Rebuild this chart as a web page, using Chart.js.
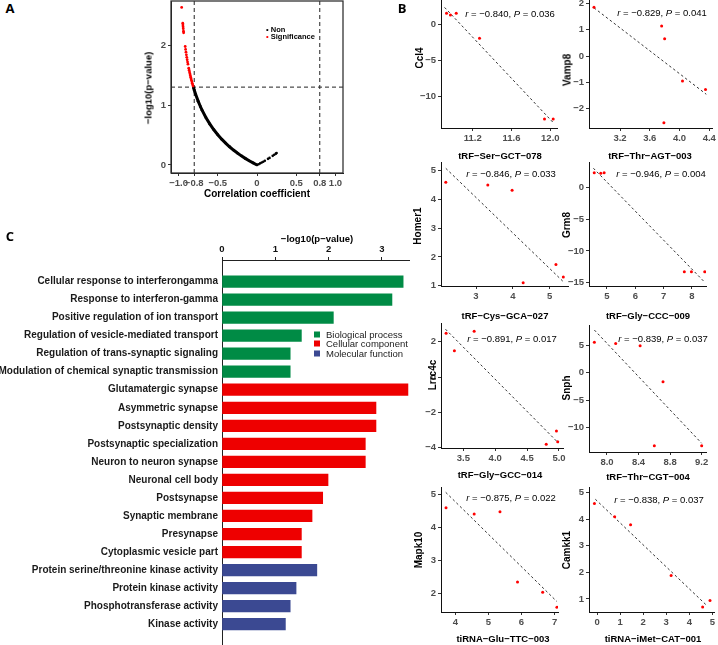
<!DOCTYPE html>
<html>
<head>
<meta charset="utf-8">
<script src="https://cdn.jsdelivr.net/npm/chart.js@4.4.1/dist/chart.umd.min.js"></script>
<style>
body{margin:0;background:#fff;width:718px;height:645px;position:relative;overflow:hidden;font-family:"Liberation Sans",Arial,sans-serif}
canvas{position:absolute}
.t{position:absolute;white-space:nowrap;line-height:1}
</style>
</head>
<body>
<script>
// ---- panel A: correlation vs -log10(p) for all pairs
const sigR = [-0.96, -0.946, -0.944, -0.942, -0.94, -0.937, -0.935, -0.915, -0.91, -0.905, -0.9, -0.895, -0.89, -0.885, -0.88, -0.87, -0.865, -0.86, -0.855, -0.85, -0.845, -0.84, -0.835, -0.83, -0.825, -0.82, -0.815];
const sigLogP = [2.63, 2.367, 2.336, 2.306, 2.276, 2.234, 2.208, 1.978, 1.929, 1.883, 1.839, 1.797, 1.757, 1.719, 1.683, 1.615, 1.583, 1.552, 1.523, 1.494, 1.466, 1.439, 1.414, 1.388, 1.364, 1.34, 1.317];
const nonR = [-0.81, -0.8, -0.78, -0.75, -0.72, -0.7, -0.65, -0.6, -0.55, -0.5, -0.45, -0.4, -0.35, -0.3, -0.25, -0.2, -0.15, -0.1, -0.05, 0];
const nonLogP = [1.295, 1.252, 1.172, 1.066, 0.972, 0.915, 0.79, 0.682, 0.588, 0.505, 0.431, 0.365, 0.304, 0.249, 0.199, 0.152, 0.11, 0.07, 0.034, 0];
const nonTailR = [0.02, 0.04, 0.06, 0.08, 0.1, 0.14, 0.16, 0.2, 0.22, 0.24, 0.25];
const nonTailLogP = [0.013, 0.027, 0.041, 0.055, 0.07, 0.102, 0.118, 0.152, 0.171, 0.189, 0.199];
const rCut = [-0.8, 0.8];
const pCut = 1.3;
const volcanoXTicks = [-1, -0.8, -0.5, 0, 0.5, 0.8, 1];
const volcanoYTicks = [0, 1, 2];

// ---- panel B: tRF/tiRNA vs target gene
const geneNames = ['Ccl4', 'Vamp8', 'Homer1', 'Grm8', 'Lrrc4c', 'Snph', 'Mapk10', 'Camkk1'];
const rnaNames = ['tRF\u2212Ser\u2212GCT\u2212078', 'tRF\u2212Thr\u2212AGT\u2212003', 'tRF\u2212Cys\u2212GCA\u2212027', 'tRF\u2212Gly\u2212CCC\u2212009',
  'tRF\u2212Gly\u2212GCC\u2212014', 'tRF\u2212Thr\u2212CGT\u2212004', 'tiRNA\u2212Glu\u2212TTC\u2212003', 'tiRNA\u2212iMet\u2212CAT\u2212001'];
const corrR = [-0.840, -0.829, -0.846, -0.946, -0.891, -0.839, -0.875, -0.838];
const corrP = [0.036, 0.041, 0.033, 0.004, 0.017, 0.037, 0.022, 0.037];

const ccl4X = [10.93, 10.97, 11.03, 11.27, 11.94, 12.03];
const ccl4Y = [1.58, 1.35, 1.58, -1.9, -13.1, -13.1];
const vamp8X = [2.85, 3.76, 3.80, 4.04, 4.35, 3.79];
const vamp8Y = [1.85, 1.14, 0.66, -0.95, -1.27, -2.53];
const homer1X = [2.18, 3.32, 3.98, 4.28, 5.17, 5.37];
const homer1Y = [4.60, 4.50, 4.32, 1.10, 1.74, 1.30];
const grm8X = [4.55, 4.78, 4.90, 7.73, 7.98, 8.45];
const grm8Y = [2.3, 2.2, 2.3, -13.27, -13.27, -13.27];
const lrrc4cX = [3.23, 3.36, 3.67, 4.80, 4.96, 4.98];
const lrrc4cY = [2.49, 1.49, 2.60, -3.81, -3.05, -3.66];
const snphX = [7.84, 8.11, 8.42, 8.71, 8.60, 9.20];
const snphY = [5.55, 5.36, 4.94, -1.64, -13.35, -13.35];
const mapk10X = [3.72, 4.57, 5.35, 5.88, 6.64, 7.07];
const mapk10Y = [4.59, 4.40, 4.47, 2.34, 2.03, 1.58];
const camkk1X = [-0.12, 0.76, 1.45, 3.21, 4.58, 4.90];
const camkk1Y = [4.59, 4.09, 3.79, 1.88, 0.70, 0.94];

// fitted lines, ends [x0, x1], [y0, y1]
const ccl4FitX = [10.91, 12.03], ccl4FitY = [2.4, -13.6];
const vamp8FitX = [2.85, 4.36], vamp8FitY = [1.83, -1.45];
const homer1FitX = [2.18, 5.37], homer1FitY = [5.08, 1.14];
const grm8FitX = [4.52, 8.43], grm8FitY = [3.0, -14.84];
const lrrc4cFitX = [3.22, 4.99], lrrc4cFitY = [2.72, -3.73];
const snphFitX = [7.84, 9.2], snphFitY = [7.8, -12.9];
const mapk10FitX = [3.71, 7.07], mapk10FitY = [5.06, 1.75];
const camkk1FitX = [-0.08, 4.73], camkk1FitY = [4.75, 0.78];

// ---- panel C: GO enrichment
const goTerms = ['Cellular response to interferongamma', 'Response to interferon-gamma', 'Positive regulation of ion transport',
  'Regulation of vesicle-mediated transport', 'Regulation of trans-synaptic signaling', 'Modulation of chemical synaptic transmission',
  'Glutamatergic synapse', 'Asymmetric synapse', 'Postsynaptic density', 'Postsynaptic specialization', 'Neuron to neuron synapse',
  'Neuronal cell body', 'Postsynapse', 'Synaptic membrane', 'Presynapse', 'Cytoplasmic vesicle part',
  'Protein serine/threonine kinase activity', 'Protein kinase activity', 'Phosphotransferase activity', 'Kinase activity'];
const goLogP = [3.40, 3.19, 2.09, 1.49, 1.28, 1.28, 3.49, 2.89, 2.89, 2.69, 2.69, 1.99, 1.89, 1.69, 1.49, 1.49, 1.78, 1.39, 1.28, 1.19];
const goGroup = [0, 0, 0, 0, 0, 0, 1, 1, 1, 1, 1, 1, 1, 1, 1, 1, 2, 2, 2, 2];
const goGroupNames = ['Biological process', 'Cellular component', 'Molecular function'];
const goTicks = [0, 1, 2, 3];

const FONT = '"Liberation Sans", Arial, sans-serif';
const goColors = ['#008B45', '#EE0000', '#3B4992'];

function makeCanvas(x, y, w, h) {
  const c = document.createElement('canvas');
  c.width = w; c.height = h;
  c.style.left = x + 'px'; c.style.top = y + 'px';
  c.style.width = w + 'px'; c.style.height = h + 'px';
  document.body.appendChild(c);
  return c;
}

function text(html, x, y, css, mode) {
  const d = document.createElement('div');
  d.className = 't';
  d.innerHTML = html;
  d.style.cssText = css;
  d.style.left = x + 'px';
  d.style.top = y + 'px';
  let tr = mode === 'left' ? 'translate(0,-50%)' : 'translate(-50%,-50%)';
  if (mode === 'rot') tr += ' rotate(-90deg)';
  d.style.transform = tr;
  document.body.appendChild(d);
}

const fmt = (v, dec) => v.toFixed(dec).replace('-', '\u2212');
const pts = (xs, ys) => xs.map((x, i) => ({x: x, y: ys[i]}));

function fixSize(size) {
  return s => {
    if (s.isHorizontal()) s.height = size; else s.width = size;
    s.paddingLeft = 0; s.paddingRight = 0; s.paddingTop = 0; s.paddingBottom = 0;
  };
}

function linAxis(min, max, ticks, dec, size, extra) {
  return Object.assign({
    type: 'linear', min: min, max: max,
    afterBuildTicks: s => { s.ticks = ticks.map(v => ({value: v})); },
    afterFit: fixSize(size),
    ticks: {autoSkip: false, maxRotation: 0, padding: 2, color: '#4d4d4d',
      font: {family: FONT, size: 9.5, weight: 'bold'}, callback: v => fmt(v, dec)},
    grid: {drawOnChartArea: false, tickLength: 3, color: '#333', lineWidth: 1},
    border: {display: true, color: '#111', width: 1}
  }, extra || {});
}

// chart area = page box [l,t,r,b]
function scatterChart(box, xr, yr, xt, yt, xdec, ydec, datasets, plugins) {
  const [l, t, r, b] = box;
  const padR = Math.min(8, 718 - r);
  const c = makeCanvas(l - 40, t - 4, (r - l) + 40 + padR, (b - t) + 4 + 22);
  return new Chart(c, {
    type: 'scatter',
    data: {datasets: datasets},
    options: {
      responsive: false, animation: false,
      layout: {padding: {left: 0, top: 4, right: padR, bottom: 0}},
      plugins: {legend: {display: false}, tooltip: {enabled: false}},
      scales: {
        x: linAxis(xr[0], xr[1], xt, xdec, 22),
        y: linAxis(yr[0], yr[1], yt, ydec, 40)
      }
    },
    plugins: plugins || []
  });
}

// ---- panel A
const boxPlugin = {
  id: 'box',
  afterDraw(chart) {
    const a = chart.chartArea, ctx = chart.ctx;
    ctx.save();
    ctx.strokeStyle = '#333';
    ctx.lineWidth = 1.3;
    ctx.strokeRect(a.left, a.top, a.right - a.left, a.bottom - a.top);
    ctx.restore();
  }
};
const aY = [-0.134, 2.738], aX = [-1.096, 1.096];
const dash = {type: 'line', showLine: true, borderColor: '#222', borderWidth: 1, borderDash: [4, 3], pointRadius: 0, fill: false};
scatterChart([171, 1, 343, 173], aX, aY, volcanoXTicks, volcanoYTicks, 1, 0, [
  {data: pts(sigR, sigLogP), backgroundColor: '#FF0000', pointRadius: 1.4, pointBorderWidth: 0},
  {data: pts(nonR, nonLogP), showLine: true, borderColor: '#000', borderWidth: 3, backgroundColor: '#000', pointRadius: 1.4, pointBorderWidth: 0},
  {data: pts(nonTailR, nonTailLogP), backgroundColor: '#000', pointRadius: 1.3, pointBorderWidth: 0},
  Object.assign({data: [{x: rCut[0], y: aY[0]}, {x: rCut[0], y: aY[1]}]}, dash),
  Object.assign({data: [{x: rCut[1], y: aY[0]}, {x: rCut[1], y: aY[1]}]}, dash),
  Object.assign({data: [{x: aX[0], y: pCut}, {x: aX[1], y: pCut}]}, dash)
], [boxPlugin]);
// integer x ticks print as "0", others with one decimal
Chart.getChart(document.querySelectorAll('canvas')[0]).options.scales.x.ticks.callback = v => v === 0 ? '0' : fmt(v, 1);
Chart.getChart(document.querySelectorAll('canvas')[0]).update();

text('Correlation coefficient', 257, 193, 'font:bold 10px ' + FONT);
text('\u2212log10(p\u2212value)', 148, 88, 'font:bold 9.5px ' + FONT, 'rot');
text('<span style="color:#000">\u2022</span>&nbsp;Non', 266, 29, 'font:bold 7.5px ' + FONT, 'left');
text('<span style="color:#f00">\u2022</span>&nbsp;Significance', 266, 36, 'font:bold 7.5px ' + FONT, 'left');

// ---- panel B
const bPlots = [
  {x: ccl4X, y: ccl4Y, fx: ccl4FitX, fy: ccl4FitY, box: [441, 0, 557, 128], xr: [10.873, 12.069], yr: [-14.35, 3.43], xt: [11.2, 11.6, 12.0], yt: [-10, -5, 0], xd: 1, xl: [500, 155], yl: [419, 58], an: [510, 13]},
  {x: vamp8X, y: vamp8Y, fx: vamp8FitX, fy: vamp8FitY, box: [589, 0, 712, 128], xr: [2.783, 4.437], yr: [-2.73, 2.127], xt: [3.2, 3.6, 4.0, 4.4], yt: [-2, -1, 0, 1, 2], xd: 1, xl: [650, 155], yl: [567, 70], an: [662, 12]},
  {x: homer1X, y: homer1Y, fx: homer1FitX, fy: homer1FitY, box: [441, 162, 568, 286], xr: [2.05, 5.497], yr: [0.99, 5.30], xt: [3, 4, 5], yt: [1, 2, 3, 4, 5], xd: 0, xl: [505, 315], yl: [417, 226], an: [511, 173]},
  {x: grm8X, y: grm8Y, fx: grm8FitX, fy: grm8FitY, box: [589, 162, 706, 286], xr: [4.365, 8.495], yr: [-15.52, 3.98], xt: [5, 6, 7, 8], yt: [-15, -10, -5, 0], xd: 0, xl: [648, 315], yl: [566, 225], an: [661, 173]},
  {x: lrrc4cX, y: lrrc4cY, fx: lrrc4cFitX, fy: lrrc4cFitY, box: [441, 323, 563, 448], xr: [3.15, 5.063], yr: [-4.02, 3.07], xt: [3.5, 4.0, 4.5, 5.0], yt: [-4, -2, 0, 2], xd: 1, xl: [500, 474], yl: [432, 375], an: [512, 338]},
  {x: snphX, y: snphY, fx: snphFitX, fy: snphFitY, box: [589, 325, 706, 452], xr: [7.772, 9.255], yr: [-14.5, 8.72], xt: [8.0, 8.4, 8.8, 9.2], yt: [-10, -5, 0, 5], xd: 1, xl: [648, 476], yl: [566, 388], an: [663, 338]},
  {x: mapk10X, y: mapk10Y, fx: mapk10FitX, fy: mapk10FitY, box: [441, 487, 558, 612], xr: [3.568, 7.103], yr: [1.433, 5.221], xt: [4, 5, 6, 7], yt: [2, 3, 4, 5], xd: 0, xl: [503, 638], yl: [418, 550], an: [511, 497]},
  {x: camkk1X, y: camkk1Y, fx: camkk1FitX, fy: camkk1FitY, box: [589, 487, 716, 612], xr: [-0.355, 5.073], yr: [0.511, 5.21], xt: [0, 1, 2, 3, 4, 5], yt: [1, 2, 3, 4, 5], xd: 0, xl: [653, 638], yl: [566, 550], an: [659, 499]}
];

bPlots.forEach((p, i) => {
  scatterChart(p.box, p.xr, p.yr, p.xt, p.yt, p.xd, 0, [
    {data: pts(p.x, p.y), backgroundColor: '#FF0000', pointRadius: 1.5, pointBorderWidth: 0},
    {type: 'line', data: pts(p.fx, p.fy), showLine: true, borderColor: '#333', borderWidth: 1, borderDash: [2.5, 2.5], pointRadius: 0, fill: false}
  ]);
  text(rnaNames[i], p.xl[0], p.xl[1], 'font:bold 9.5px ' + FONT);
  text(geneNames[i], p.yl[0], p.yl[1], 'font:bold 10px ' + FONT, 'rot');
  text('<i>r</i> = ' + fmt(corrR[i], 3) + ', <i>P</i> = ' + corrP[i].toFixed(3), p.an[0], p.an[1], 'font:9.5px ' + FONT);
});

// ---- panel C
const cCanvas = makeCanvas(0, 225, 420, 420);
new Chart(cCanvas, {
  type: 'bar',
  data: {
    datasets: [{
      data: goLogP.map((v, i) => ({x: v, y: i})),
      backgroundColor: goGroup.map(g => goColors[g]),
      borderWidth: 0,
      barThickness: 11.6
    }]
  },
  options: {
    indexAxis: 'y',
    responsive: false, animation: false,
    layout: {padding: {left: 0, top: 0, right: 11, bottom: 0}},
    plugins: {legend: {display: false}, tooltip: {enabled: false}},
    scales: {
      x: {
        type: 'linear', position: 'top', min: 0, max: 3.51,
        afterBuildTicks: s => { s.ticks = goTicks.map(v => ({value: v})); },
        afterFit: fixSize(35),
        ticks: {padding: 2, color: '#111', font: {family: FONT, size: 9.5, weight: 'bold'}, callback: v => String(v)},
        grid: {drawOnChartArea: false, tickLength: 3, color: '#222'},
        border: {display: true, color: '#222', width: 1}
      },
      y: {
        type: 'linear', reverse: true, min: -0.66, max: 19.62,
        afterBuildTicks: s => { s.ticks = goTerms.map((t, i) => ({value: i})); },
        afterFit: fixSize(222),
        ticks: {autoSkip: false, padding: 4, color: '#1a1a1a', font: {family: FONT, size: 10, weight: 'bold'}, callback: v => goTerms[v]},
        grid: {display: false, drawTicks: false},
        border: {display: true, color: '#222', width: 1}
      }
    }
  }
});

text('\u2212log10(p\u2212value)', 317, 238, 'font:bold 9.5px ' + FONT);
goGroupNames.forEach((n, i) => {
  const y = 333.5 + i * 9.5;
  text('<span style="display:inline-block;width:6px;height:6px;background:' + goColors[i] + ';vertical-align:middle;margin-right:6px"></span>' + n,
    314, y, 'font:9.5px ' + FONT + ';color:#222', 'left');
});

// panel letters
text('A', 10, 8, 'font:bold 13px "Open Sans",' + FONT);
text('B', 402, 8, 'font:bold 13px "Open Sans",' + FONT);
text('C', 10, 236, 'font:bold 13px "Open Sans",' + FONT);
</script>
</body>
</html>
